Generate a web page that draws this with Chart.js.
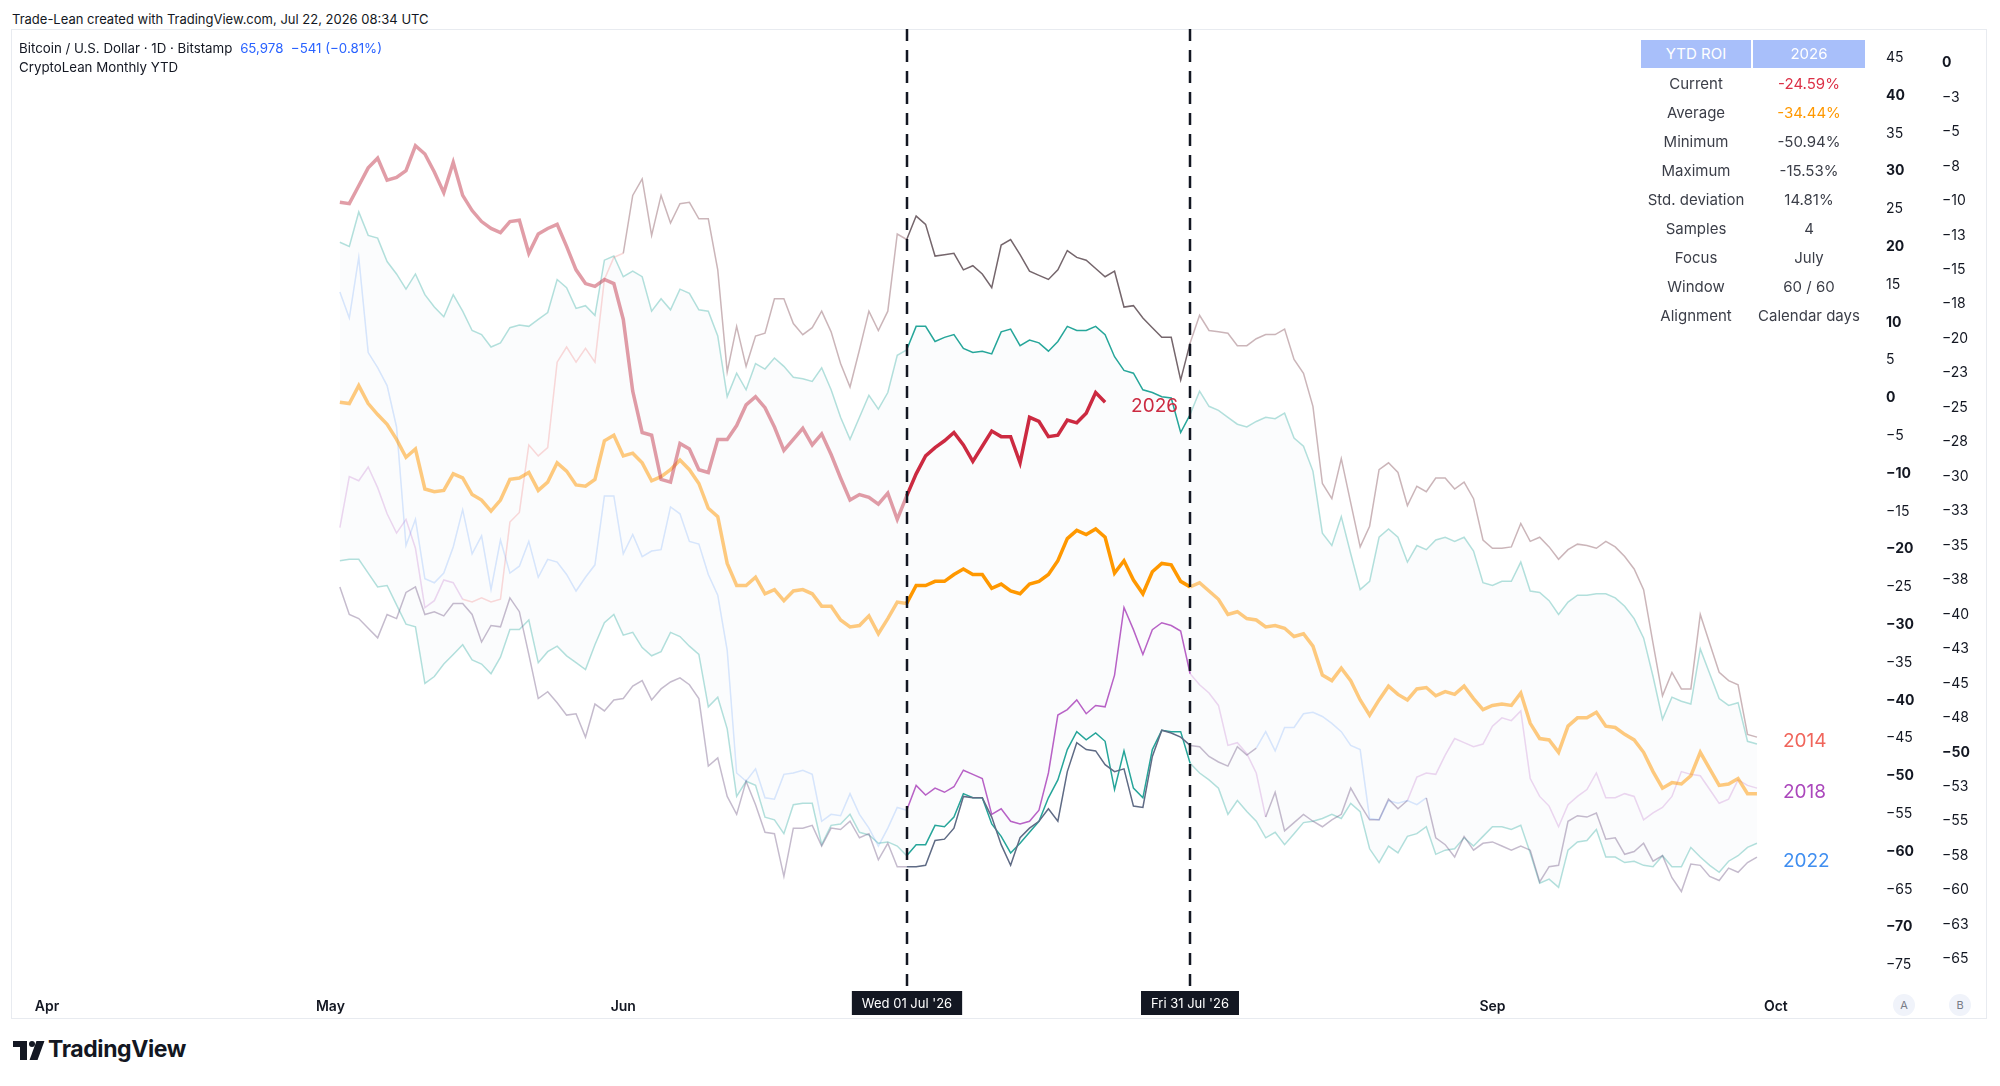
<!DOCTYPE html>
<html>
<head>
<meta charset="utf-8">
<title>CryptoLean Monthly YTD</title>
<script src="https://cdn.jsdelivr.net/npm/chart.js@4.4.1/dist/chart.umd.min.js"></script>
<style>
  body { margin: 0; background: #fff; font-family: Inter, "Noto Sans", sans-serif; color: #131722; }
  #page { position: relative; width: 2000px; height: 1086px; overflow: hidden; }
  .t { position: absolute; white-space: nowrap; }
  #pane { position: absolute; left: 11px; top: 29px; width: 1976px; height: 990px; border: 1px solid #e8ebf0; box-sizing: border-box; }
  #chartBox { position: absolute; left: 11px; top: 29px; width: 1976px; height: 990px; }
  .cell { position: absolute; text-align: center; font-size: 15px; color: #3b3e48; height: 22px; line-height: 22px; }
  .head { background: #a8bffa; color: #fff; height: 28px; line-height: 28px; top: 40px; }
  .circ { position: absolute; width: 22px; height: 22px; border-radius: 11px; background: #f0f3fa; color: #787b86;
          font-size: 11px; text-align: center; line-height: 22px; }
</style>
</head>
<body>
<div id="page">
  <div class="t" style="left:12px; top:11px; font-size:13px;">Trade-Lean created with TradingView.com, Jul 22, 2026 08:34 UTC</div>
  <div id="pane"></div>
  <div id="chartBox"><canvas id="chart"></canvas></div>
  <div class="t" style="left:19px; top:40px; font-size:13.3px;">Bitcoin / U.S. Dollar · 1D · Bitstamp
    <span style="color:#2962ff; margin-left:4px;">65,978&nbsp;&nbsp;−541 (−0.81%)</span></div>
  <div class="t" style="left:19px; top:59px; font-size:13.3px;">CryptoLean Monthly YTD</div>
  <div id="table"></div>
  <div class="circ" style="left:1893px; top:994px;">A</div>
  <div class="circ" style="left:1949px; top:994px;">B</div>
  <!-- logo -->
  <div style="position:absolute; left:13px; top:1041px; width:14px; height:6px; background:#131722;"></div>
  <div style="position:absolute; left:20px; top:1041px; width:7px; height:19px; background:#131722;"></div>
  <div style="position:absolute; left:29px; top:1041px; width:6px; height:6px; border-radius:3px; background:#131722;"></div>
  <div style="position:absolute; left:33px; top:1041px; width:8px; height:19px; background:#131722; transform:skewX(-20deg);"></div>
  <div class="t" style="left:48px; top:1035px; font-size:23px; font-weight:700; letter-spacing:-0.4px;">TradingView</div>
</div>
<script>
// time axis: days counted from 1 April, series start on 2 May (day 31)
const firstDay = 31;
const focusStart = 91;   // Wed 01 Jul
const focusEnd = 121;    // Fri 31 Jul
const monthDays = [0, 30, 61, 91, 122, 153, 183];
const monthNames = ['Apr', 'May', 'Jun', 'Jul', 'Aug', 'Sep', 'Oct'];

// YTD ROI, %, one value per day from day 31
const average = [
  -24.6, -24.7, -23.4, -24.7, -25.5, -26.2, -27.3, -28.6, -28.0, -30.9,
  -31.1, -31.0, -29.8, -30.1, -31.3, -31.7, -32.5, -31.7, -30.2, -30.1,
  -29.7, -31.0, -30.4, -29.0, -29.6, -30.6, -30.7, -30.2, -27.4, -27.0,
  -28.5, -28.3, -29.0, -30.3, -30.0, -29.5, -28.8, -29.5, -30.5, -32.3,
  -32.9, -36.3, -37.9, -37.9, -37.3, -38.5, -38.2, -39.0, -38.3, -38.2,
  -38.5, -39.4, -39.4, -40.4, -40.9, -40.8, -40.1, -41.4, -40.3, -39.1,
  -39.2, -37.9, -37.9, -37.6, -37.6, -37.1, -36.7, -37.1, -37.1, -38.1,
  -37.8, -38.3, -38.5, -37.8, -37.6, -37.1, -36.1, -34.5, -33.9, -34.2,
  -33.8, -34.4, -37.0, -36.1, -37.5, -38.5, -36.9, -36.3, -36.4, -37.6,
  -38.0, -37.7, -38.3, -38.9, -40.0, -39.8, -40.3, -40.4, -40.9, -40.8,
  -41.0, -41.6, -41.4, -42.3, -44.4, -44.8, -43.9, -44.8, -46.2, -47.3,
  -46.2, -45.2, -45.8, -46.2, -45.4, -45.3, -45.9, -45.6, -45.8, -45.2,
  -46.1, -46.9, -46.6, -46.5, -46.6, -45.7, -47.9, -49.0, -49.1, -50.0,
  -48.1, -47.5, -47.5, -47.1, -48.1, -48.2, -48.7, -49.1, -50.0, -51.4,
  -52.6, -52.2, -52.3, -51.7, -50.0, -51.2, -52.4, -52.3, -51.9, -53.0,
  -53.0
];
const bandHigh = [
  -13.0, -13.3, -10.8, -12.5, -12.7, -14.4, -15.3, -16.4, -15.3, -16.8,
  -17.7, -18.4, -16.8, -18.0, -19.4, -19.7, -20.6, -20.3, -19.2, -19.0,
  -19.1, -18.6, -18.1, -15.7, -16.3, -17.8, -17.6, -18.3, -14.3, -14.0,
  -15.5, -15.1, -15.5, -18.0, -17.1, -17.9, -16.4, -16.7, -17.9, -18.0,
  -19.8, -24.2, -22.5, -23.7, -21.8, -22.2, -21.4, -22.0, -22.8, -22.9,
  -23.1, -22.1, -23.7, -25.7, -27.3, -25.7, -24.1, -25.1, -23.9, -21.2,
  -20.8, -19.1, -19.1, -20.2, -19.9, -19.7, -20.7, -21.0, -20.9, -21.1,
  -19.5, -19.3, -20.5, -20.1, -20.3, -20.9, -20.2, -19.1, -19.4, -19.4,
  -19.1, -19.7, -21.3, -22.3, -22.5, -23.7, -23.9, -24.2, -24.3, -26.8,
  -25.5, -23.8, -24.9, -25.2, -25.7, -26.2, -26.4, -26.0, -25.7, -25.8,
  -25.4, -27.2, -27.8, -29.6, -34.1, -35.0, -32.9, -35.6, -38.2, -37.6,
  -34.4, -33.8, -34.4, -36.2, -35.0, -35.3, -34.6, -34.4, -34.7, -34.4,
  -35.4, -37.7, -37.9, -37.6, -37.6, -36.2, -38.3, -38.4, -39.0, -40.0,
  -39.1, -38.6, -38.6, -38.5, -38.5, -38.8, -39.4, -40.3, -41.7, -44.5,
  -47.6, -46.0, -46.3, -46.5, -42.5, -44.3, -46.1, -46.6, -46.4, -49.2,
  -49.4
];
const bandLow = [
  -36.1, -36.0, -36.0, -37.0, -38.0, -37.9, -39.3, -40.7, -40.9, -45.0,
  -44.5, -43.6, -42.9, -42.2, -43.3, -43.6, -44.3, -43.1, -41.1, -41.1,
  -40.4, -43.5, -42.7, -42.3, -43.0, -43.5, -44.0, -42.2, -40.6, -40.0,
  -41.5, -41.3, -42.4, -43.0, -42.7, -41.3, -41.6, -42.3, -42.9, -46.7,
  -46.0, -48.3, -53.2, -52.1, -52.4, -54.7, -54.9, -55.9, -53.8, -53.7,
  -53.7, -56.7, -55.3, -55.2, -54.5, -55.8, -56.0, -56.6, -56.5, -56.8,
  -57.5, -56.7, -56.7, -55.3, -55.4, -54.7, -53.0, -53.3, -53.3, -55.2,
  -56.1, -57.3, -56.6, -55.8, -55.0, -53.3, -52.0, -49.8, -48.5, -49.1,
  -48.6, -49.2, -52.7, -49.9, -52.6, -53.3, -49.8, -48.4, -48.5, -48.5,
  -50.8, -51.5, -52.0, -52.6, -54.5, -53.5, -54.3, -55.0, -56.2, -55.8,
  -56.7, -55.9, -55.1, -55.0, -54.8, -54.5, -54.8, -53.7, -54.3, -57.0,
  -58.0, -56.8, -57.3, -56.1, -55.9, -55.4, -57.4, -57.1, -57.0, -56.2,
  -56.8, -56.1, -55.4, -55.4, -55.6, -55.3, -57.3, -59.5, -59.2, -59.8,
  -57.1, -56.5, -56.4, -55.6, -57.6, -57.6, -58.0, -57.9, -58.2, -58.3,
  -57.5, -58.3, -58.3, -56.9, -57.6, -58.2, -58.7, -57.9, -57.5, -56.9,
  -56.6
];
const roi2014 = [
  -33.7, -30.0, -30.3, -29.3, -30.8, -32.7, -34.1, -33.1, -35.2, -39.5,
  -39.0, -37.5, -37.7, -38.9, -39.1, -38.8, -39.1, -38.9, -33.3, -32.6,
  -27.7, -28.5, -27.9, -21.7, -20.6, -21.7, -20.7, -21.7, -15.7, -14.1,
  -13.8, -9.6, -8.4, -12.5, -9.6, -11.6, -10.2, -10.1, -11.3, -11.3,
  -15.0, -22.4, -19.1, -22.0, -19.8, -19.6, -17.1, -17.1, -18.9, -19.7,
  -19.2, -18.0, -19.5, -21.8, -23.5, -20.8, -18.0, -19.4, -18.0, -12.4,
  -12.8, -11.1, -11.7, -14.0, -13.9, -13.8, -15.0, -14.7, -15.3, -16.3,
  -13.2, -12.8, -13.9, -15.1, -15.4, -15.7, -15.0, -13.6, -14.1, -14.3,
  -14.9, -15.5, -15.1, -17.7, -17.6, -18.5, -19.2, -19.9, -19.9, -23.0,
  -20.3, -18.3, -19.4, -19.5, -19.6, -20.5, -20.5, -20.0, -19.7, -19.7,
  -19.3, -21.5, -22.5, -24.9, -30.5, -31.6, -28.7, -31.9, -35.1, -33.6,
  -29.5, -29.0, -29.7, -32.1, -30.7, -31.1, -30.1, -30.1, -30.9, -30.4,
  -31.6, -34.6, -35.2, -35.2, -35.1, -33.4, -34.7, -34.4, -35.1, -36.0,
  -35.3, -34.9, -35.0, -35.2, -34.7, -35.1, -35.8, -36.7, -38.2, -42.1,
  -45.9, -44.2, -45.4, -45.4, -40.0, -42.1, -44.2, -44.8, -45.1, -48.7,
  -48.9
];
const roi2018 = [
  -16.6, -18.5, -14.1, -21.0, -22.1, -23.4, -26.4, -35.0, -33.1, -37.4,
  -37.7, -37.0, -35.1, -32.4, -35.6, -34.3, -38.2, -34.6, -37.0, -36.5,
  -34.7, -37.3, -36.0, -36.2, -37.1, -38.3, -37.3, -36.4, -31.4, -31.4,
  -35.6, -34.2, -35.8, -35.4, -35.3, -32.2, -32.7, -34.7, -34.9, -37.1,
  -38.6, -42.6, -51.5, -52.1, -51.2, -53.3, -53.4, -51.6, -51.5, -51.3,
  -51.6, -55.0, -54.5, -54.6, -53.0, -54.5, -55.5, -56.8, -55.5, -54.0,
  -54.2, -52.4, -53.1, -52.6, -52.9, -52.5, -51.3, -51.6, -51.9, -54.5,
  -54.1, -55.0, -55.2, -55.0, -54.2, -51.5, -47.3, -46.9, -46.2, -47.2,
  -46.6, -46.7, -44.4, -39.5, -41.1, -42.9, -41.1, -40.6, -40.8, -41.2,
  -44.3, -45.1, -45.7, -46.6, -49.5, -49.3, -50.1, -51.5, -54.7, -52.9,
  -55.7, -55.1, -54.5, -55.0, -55.4, -54.9, -54.5, -52.6, -53.8, -54.9,
  -54.9, -53.4, -54.1, -53.5, -51.8, -51.5, -51.6, -50.2, -49.0, -49.3,
  -49.6, -49.4, -48.1, -47.5, -47.7, -47.0, -51.9, -53.2, -53.9, -55.4,
  -53.8, -53.2, -52.7, -51.5, -53.3, -53.3, -53.0, -53.2, -54.9, -54.4,
  -54.0, -53.2, -51.4, -51.6, -51.7, -52.7, -53.7, -53.4, -52.0, -52.4,
  -52.6
];
const roi2022 = [
  -38.0, -40.0, -40.3, -41.0, -41.7, -40.0, -40.3, -38.4, -38.0, -40.0,
  -39.8, -40.1, -39.2, -39.2, -40.0, -42.0, -40.8, -40.9, -38.8, -39.8,
  -42.9, -46.1, -45.6, -46.4, -47.3, -47.2, -48.9, -46.5, -47.0, -46.2,
  -46.1, -45.2, -44.8, -46.2, -45.4, -44.9, -44.6, -45.1, -46.1, -51.0,
  -50.4, -53.2, -54.5, -52.1, -53.8, -55.8, -55.9, -59.0, -55.5, -55.5,
  -55.3, -56.8, -55.5, -55.6, -55.0, -56.2, -55.9, -57.8, -56.6, -58.3,
  -58.3, -58.3, -58.2, -56.4, -56.3, -55.5, -53.2, -53.3, -53.3, -54.7,
  -56.7, -58.2, -56.2, -55.5, -55.0, -54.1, -55.0, -51.4, -49.3, -49.8,
  -49.9, -50.9, -51.4, -51.2, -53.9, -54.0, -50.3, -48.4, -48.6, -48.9,
  -49.5, -49.6, -50.3, -50.7, -51.0, -49.6, -50.2, -49.7, -48.5, -49.9,
  -48.2, -48.2, -47.2, -47.1, -47.4, -47.9, -48.5, -49.5, -49.8, -54.8,
  -54.9, -53.5, -53.7, -53.5, -53.8, -53.3, -56.2, -56.7, -57.6, -56.1,
  -57.1, -56.6, -56.5, -56.8, -57.1, -56.8, -57.1, -59.4, -58.3, -58.2,
  -55.0, -54.6, -54.7, -54.4, -56.3, -56.2, -57.4, -57.2, -56.6, -57.9,
  -57.5, -59.1, -60.1, -58.1, -58.2, -59.0, -59.3, -58.4, -58.7, -58.0,
  -57.6
];
const roi2026 = [
  -10.1, -10.2, -8.9, -7.6, -6.9, -8.5, -8.3, -7.8, -6.0, -6.6,
  -7.9, -9.4, -7.2, -9.6, -10.7, -11.5, -12.0, -12.3, -11.5, -11.4,
  -13.8, -12.4, -12.0, -11.7, -13.3, -15.0, -16.0, -16.2, -15.7, -16.0,
  -18.6, -23.8, -26.8, -27.0, -30.2, -30.4, -27.6, -28.0, -29.5, -29.7,
  -27.3, -27.3, -26.3, -24.8, -24.2, -25.0, -26.4, -28.1, -27.3, -26.5,
  -27.7, -26.9, -28.4, -30.1, -31.7, -31.3, -31.5, -32.0, -31.2, -33.1,
  -31.4, -29.8, -28.5, -27.9, -27.4, -26.8, -27.7, -28.9, -27.8, -26.7,
  -27.1, -27.1, -29.0, -25.7, -26.0, -27.1, -27.0, -25.9, -26.1, -25.4,
  -23.9, -24.6
];

// stats table
const statLabels = ['Current', 'Average', 'Minimum', 'Maximum', 'Std. deviation', 'Samples', 'Focus', 'Window', 'Alignment'];
const statValues = ['-24.59%', '-34.44%', '-50.94%', '-15.53%', '14.81%', '4', 'July', '60 / 60', 'Calendar days'];
const statColors = ['#dc3147', '#ff9800'];

const tbl = document.getElementById('table');
function cell(text, left, width, top, cls, color) {
  const d = document.createElement('div');
  d.className = 'cell' + (cls ? ' ' + cls : '');
  d.style.left = left + 'px';
  d.style.width = width + 'px';
  if (top !== null) d.style.top = top + 'px';
  if (color) d.style.color = color;
  d.textContent = text;
  tbl.appendChild(d);
}
cell('YTD ROI', 1641, 110, null, 'head');
cell('2026', 1753, 112, null, 'head');
statLabels.forEach((lab, i) => {
  const top = 73 + 29 * i;
  cell(lab, 1641, 110, top);
  cell(statValues[i], 1753, 112, top, '', statColors[i]);
});

// colours
const C = {
  orange: '#ff9800', orangeFade: 'rgba(255,152,0,0.5)',
  red: '#cc2a41', redFade: 'rgba(196,60,80,0.5)',
  teal: '#26a69a', tealFade: 'rgba(38,166,154,0.35)',
  brown: '#75666c', greyPink: 'rgba(140,90,100,0.45)',
  lavender: 'rgba(171,71,188,0.22)', pink: 'rgba(239,83,80,0.22)',
  purple: 'rgba(171,71,188,0.85)', lightBlue: 'rgba(66,133,244,0.2)',
  mauve: 'rgba(110,85,130,0.4)', slate: '#5f6b85'
};

function colorAt(stops, day) {
  let c = stops[0][1];
  for (const s of stops) if (day >= s[0]) c = s[1];
  return c;
}
function points(vals) {
  return vals.map((v, i) => ({ x: firstDay + i, y: v }));
}
function series(label, vals, stops, width, order, extra) {
  return Object.assign({
    label: label,
    data: points(vals),
    yAxisID: 'y',
    borderColor: stops[0][1],
    borderWidth: width,
    pointRadius: 0,
    tension: 0,
    fill: false,
    order: order,
    segment: { borderColor: ctx => colorAt(stops, ctx.p0.parsed.x) }
  }, extra || {});
}

const datasets = [
  series('Band high', bandHigh, [[31, C.tealFade], [91, C.teal], [121, C.tealFade]], 1.5, 6,
    { fill: '+1', backgroundColor: 'rgba(70,130,160,0.022)' }),
  series('Band low', bandLow, [[31, C.tealFade], [91, C.teal], [121, C.tealFade]], 1.5, 6),
  series('2014', roi2014, [[31, C.lavender], [44, C.pink], [61, C.greyPink], [91, C.brown], [121, C.greyPink]], 1.5, 5,
    { endLabel: '#f0655b' }),
  series('2018', roi2018, [[31, C.lightBlue], [91, C.purple], [121, C.lavender], [129, C.mauve], [144, C.lavender]], 1.5, 4,
    { endLabel: '#ab47bc' }),
  series('2022', roi2022, [[31, C.mauve], [91, C.slate], [121, C.mauve], [128, C.lightBlue], [146, C.mauve]], 1.5, 3,
    { endLabel: '#3f8ef0' }),
  series('Average', average, [[31, C.orangeFade], [91, C.orange], [121, C.orangeFade]], 3.5, 1),
  series('2026', roi2026, [[31, C.redFade], [91, C.red]], 3.5, 0, { endLabel: '#cc2a41' })
];

const marks = {
  id: 'marks',
  afterDatasetsDraw(chart) {
    const { ctx, chartArea, scales: { x } } = chart;
    ctx.save();
    ctx.strokeStyle = '#131722';
    ctx.lineWidth = 2.5;
    ctx.setLineDash([12, 9]);
    [focusStart, focusEnd].forEach(d => {
      const px = Math.round(x.getPixelForValue(d));
      ctx.beginPath();
      ctx.moveTo(px, chartArea.top);
      ctx.lineTo(px, chartArea.bottom + 6);
      ctx.stroke();
    });
    ctx.setLineDash([]);
    // year tags at the end of each line
    ctx.font = '19px Inter';
    ctx.textBaseline = 'middle';
    ctx.textAlign = 'left';
    chart.data.datasets.forEach((ds, i) => {
      if (!ds.endLabel) return;
      const pts = chart.getDatasetMeta(i).data;
      const last = pts[pts.length - 1];
      ctx.fillStyle = ds.endLabel;
      ctx.fillText(ds.label, last.x + 26, last.y + 4);
    });
    ctx.restore();
  },
  afterDraw(chart) {
    const { ctx, chartArea, scales: { x } } = chart;
    const tags = [[focusStart, "Wed 01 Jul '26"], [focusEnd, "Fri 31 Jul '26"]];
    ctx.save();
    ctx.font = '13px Inter';
    ctx.textAlign = 'center';
    ctx.textBaseline = 'middle';
    tags.forEach(([d, txt]) => {
      const px = Math.round(x.getPixelForValue(d));
      const w = ctx.measureText(txt).width + 20;
      ctx.fillStyle = '#131722';
      ctx.fillRect(px - w / 2, chartArea.bottom + 6, w, 24);
      ctx.fillStyle = '#ffffff';
      ctx.fillText(txt, px, chartArea.bottom + 19);
    });
    ctx.restore();
  }
};

const minus = '\u2212';
function fixV(width) {
  return s => { s.width = width; s.paddingTop = 0; s.paddingBottom = 0; };
}
new Chart(document.getElementById('chart'), {
  type: 'line',
  data: { datasets: datasets },
  options: {
    responsive: true,
    maintainAspectRatio: false,
    animation: false,
    events: [],
    layout: { padding: 0 },
    plugins: { legend: { display: false }, tooltip: { enabled: false } },
    scales: {
      x: {
        type: 'linear',
        min: -3.81,
        max: 193.6,
        grid: { display: false },
        border: { display: false },
        afterFit: s => { s.height = 34; s.paddingLeft = 0; s.paddingRight = 0; },
        afterBuildTicks: s => { s.ticks = monthDays.map(v => ({ value: v })); },
        ticks: {
          autoSkip: false,
          maxRotation: 0,
          padding: 5,
          color: '#131722',
          font: { family: 'Inter', size: 14, weight: '600' },
          callback: v => monthNames[monthDays.indexOf(v)] || ''
        }
      },
      y: {
        type: 'linear',
        position: 'right',
        weight: 2,
        min: -66.88,
        max: 2.47,
        grid: { display: false, drawTicks: false },
        border: { display: false },
        afterFit: fixV(55),
        ticks: {
          stepSize: 2.5,
          includeBounds: false,
          autoSkip: false,
          padding: 10,
          color: '#131722',
          font: c => ({ family: 'Inter', size: 14, weight: c.tick && (c.tick.value === 0 || c.tick.value === -50) ? 'bold' : 'normal' }),
          callback: v => { const r = Math.round(Math.abs(v)); return r === 0 ? '0' : minus + r; }
        }
      },
      y2: {
        type: 'linear',
        position: 'right',
        weight: 1,
        min: -77.65,
        max: 48.81,
        grid: { display: false, drawTicks: false },
        border: { display: false },
        afterFit: fixV(56),
        ticks: {
          stepSize: 5,
          includeBounds: false,
          autoSkip: false,
          padding: 10,
          color: '#131722',
          font: c => ({ family: 'Inter', size: 14, weight: c.tick && c.tick.value % 10 === 0 ? 'bold' : 'normal' }),
          callback: v => v < 0 ? minus + Math.abs(v) : String(v)
        }
      }
    }
  },
  plugins: [marks]
});
</script>
</body>
</html>
